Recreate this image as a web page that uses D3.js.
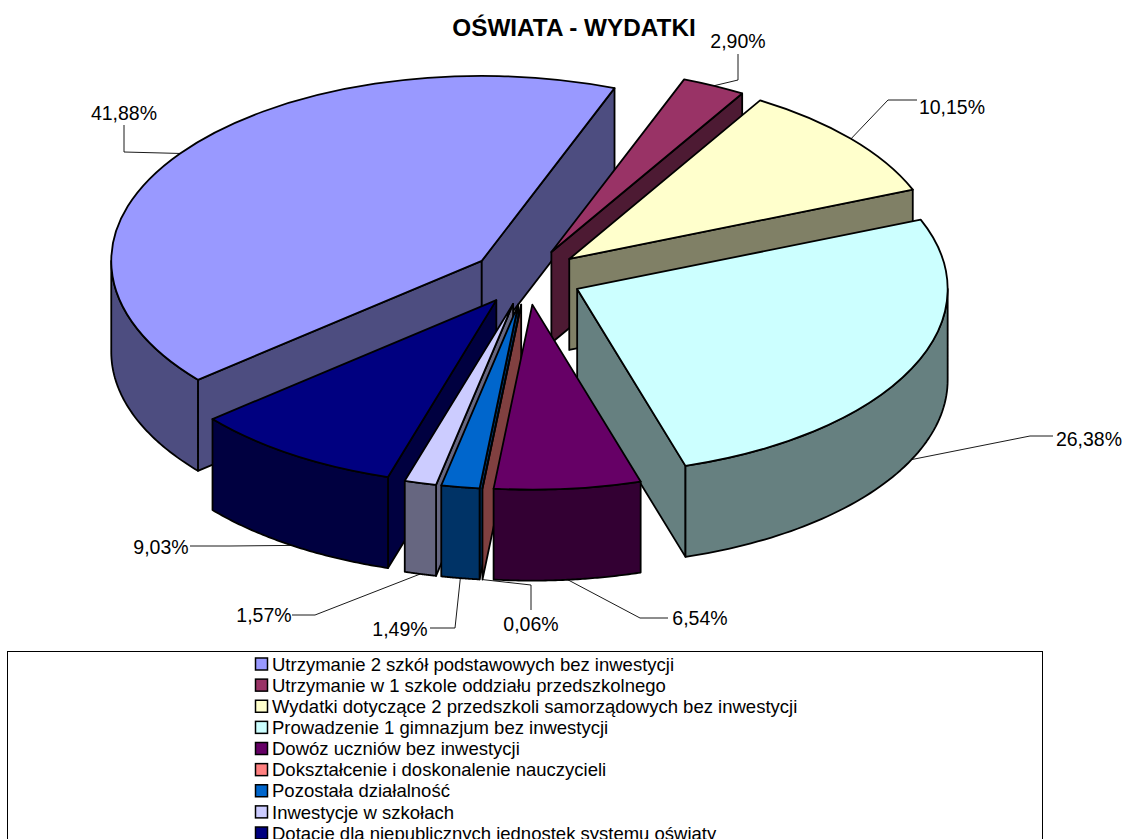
<!DOCTYPE html>
<html>
<head>
<meta charset="utf-8">
<script src="https://cdn.jsdelivr.net/npm/d3@7"></script>
<style>
html, body { margin: 0; padding: 0; background: #fff; overflow: hidden; }
text { font-family: "Liberation Sans", Arial, sans-serif; fill: #000; }
</style>
</head>
<body>
<div id="chart"></div>
<script>
// chart data
const categories = [
    "Utrzymanie 2 szkół podstawowych bez inwestycji",
    "Utrzymanie w 1 szkole oddziału przedszkolnego",
    "Wydatki dotyczące 2 przedszkoli samorządowych bez inwestycji",
    "Prowadzenie 1 gimnazjum bez inwestycji",
    "Dowóz uczniów bez inwestycji",
    "Dokształcenie i doskonalenie nauczycieli",
    "Pozostała działalność",
    "Inwestycje w szkołach",
    "Dotacje dla niepublicznych jednostek systemu oświaty"
];
const values = [41.88, 2.90, 10.15, 26.38, 6.54, 0.06, 1.49, 1.57, 9.03];
const title = "OŚWIATA - WYDATKI";

const colors = ["#9999FF", "#993366", "#FFFFCC", "#CCFFFF", "#660066", "#FF8080", "#0066CC", "#CCCCFF", "#000080"];

// layout
var width = 1125,
    height = 839;
var cx = 527, cy = 277;
var rx = 370.5, ry = 185, depth = 91;
var explode = 0.15;
var firstAngle = -130 * Math.PI / 180;

// back to front, the pie has no real depth sorting
var drawOrder = [0, 1, 2, 3, 8, 7, 6, 5, 4];

// label centre, then the elbow of the leader line and where it stops at the label
var labelPos = [
    {x: 124, y: 113, elbow: [124, 152], end: [124, 125]},
    {x: 738, y: 41, elbow: [738, 80], end: [738, 54]},
    {x: 952, y: 107, elbow: [888, 100], end: [917, 100]},
    {x: 1089, y: 439, elbow: [1030, 436], end: [1053, 436]},
    {x: 700, y: 618, elbow: [640, 618], end: [668, 618]},
    {x: 531, y: 624, elbow: [531, 585], end: [531, 610]},
    {x: 400, y: 629, elbow: [455, 628], end: [430, 628]},
    {x: 264, y: 615, elbow: [315, 615], end: [292, 615]},
    {x: 161, y: 547, elbow: [230, 546], end: [190, 546]}
];

var svg = d3.select('#chart').append('svg')
    .attr('width', width)
    .attr('height', height)
    .style('display', 'block');

// unit disc -> pixels
let scaleX = d3.scaleLinear().domain([-1, 1]).range([cx - rx, cx + rx]);
let scaleY = d3.scaleLinear().domain([-1, 1]).range([cy - ry, cy + ry]);

let pctFormat = d3.formatLocale({decimal: ",", thousands: " ", grouping: [3], currency: ["", ""]}).format(".2f");

let pie = d3.pie().sort(null)
    .startAngle(firstAngle)
    .endAngle(firstAngle + 2 * Math.PI);
let slices = pie(values);

// the original pie snaps slice borders to whole degrees
let wholeDeg = a => Math.round(a * 180 / Math.PI) * Math.PI / 180;

slices.forEach(s => {
    s.startAngle = wholeDeg(s.startAngle);
    s.endAngle = wholeDeg(s.endAngle);
    s.mid = (s.startAngle + s.endAngle) / 2;
    s.ox = Math.sin(s.mid) * explode;
    s.oy = -Math.cos(s.mid) * explode;
});

/**
 * Point on a slice: angle t, radius r (0..1), dropped by z pixels
 */
function pt(s, t, r, z) {
    return [scaleX(s.ox + r * Math.sin(t)), scaleY(s.oy - r * Math.cos(t)) + z];
}

let line = d3.line();

function radialFace(s, t) {
    return line([pt(s, t, 0, 0), pt(s, t, 1, 0), pt(s, t, 1, depth), pt(s, t, 0, depth)]) + "Z";
}

/**
 * Outer wall, only the part turned towards the viewer (t between 90 and 270 deg, mod 360)
 */
function rimFace(s) {
    let a = Math.max(s.startAngle, Math.PI / 2);
    let b = Math.min(s.endAngle, 3 * Math.PI / 2);
    let a2 = Math.max(s.startAngle, -3 * Math.PI / 2);
    let b2 = Math.min(s.endAngle, -Math.PI / 2);
    if (a2 < b2) { a = a2; b = b2; }
    if (a >= b) return null;
    let ts = d3.range(0, 61).map(i => a + (b - a) * i / 60);
    let upper = ts.map(t => pt(s, t, 1, 0));
    let lower = ts.slice().reverse().map(t => pt(s, t, 1, depth));
    return line(upper.concat(lower)) + "Z";
}

// leader lines go under the slices
let leaders = svg.append('g');
slices.forEach((s, i) => {
    let front = Math.cos(s.mid) < 0;
    let start = pt(s, s.mid, 1, front ? depth : 0);
    leaders.append('path')
        .attr('d', line([start, labelPos[i].elbow, labelPos[i].end]))
        .attr('fill', 'none')
        .attr('stroke', '#000')
        .attr('stroke-width', 0.9);
});

let arc = d3.arc().innerRadius(0).outerRadius(rx);

let g = svg.append('g')
    .attr('stroke', '#000')
    .attr('stroke-width', 1.8)
    .attr('stroke-linejoin', 'round');

drawOrder.forEach(i => {
    let s = slices[i];
    let c = d3.rgb(colors[i]);
    let side = d3.rgb(c.r / 2, c.g / 2, c.b / 2);

    let slice = g.append('g').attr('class', 'slice');
    if (Math.sin(s.startAngle) < 0) {
        slice.append('path').attr('d', radialFace(s, s.startAngle)).attr('fill', side);
    }
    if (Math.sin(s.endAngle) > 0) {
        slice.append('path').attr('d', radialFace(s, s.endAngle)).attr('fill', side);
    }
    let rim = rimFace(s);
    if (rim) slice.append('path').attr('d', rim).attr('fill', side);

    // top face, a circle squashed to the ellipse
    slice.append('path')
        .attr('d', arc(s))
        .attr('transform', 'translate(' + scaleX(s.ox) + ',' + scaleY(s.oy) + ') scale(1,' + (ry / rx) + ')')
        .attr('vector-effect', 'non-scaling-stroke')
        .attr('fill', colors[i]);
});

// percent labels
svg.append('g').selectAll('text').data(slices).enter().append('text')
    .attr('x', (d, i) => labelPos[i].x)
    .attr('y', (d, i) => labelPos[i].y)
    .attr('dy', '0.36em')
    .attr('text-anchor', 'middle')
    .attr('font-size', 19.5)
    .text(d => pctFormat(d.value) + "%");

svg.append('text')
    .attr('x', 574)
    .attr('y', 36)
    .attr('text-anchor', 'middle')
    .attr('font-size', 24.3)
    .attr('font-weight', 'bold')
    .text(title);

// legend, cut by the bottom of the picture like the original
svg.append('rect')
    .attr('x', 7.5)
    .attr('y', 651.5)
    .attr('width', 1035)
    .attr('height', 260)
    .attr('fill', '#fff')
    .attr('stroke', '#000')
    .attr('stroke-width', 1);

let scaleLegend = d3.scaleLinear().domain([0, 8]).range([664, 833]);
let legend = svg.append('g').selectAll('g').data(categories).enter().append('g')
    .attr('transform', (d, i) => 'translate(0,' + scaleLegend(i) + ')');
legend.append('rect')
    .attr('x', 255.5)
    .attr('y', -6)
    .attr('width', 12)
    .attr('height', 12)
    .attr('fill', (d, i) => colors[i])
    .attr('stroke', '#000')
    .attr('stroke-width', 1.5);
legend.append('text')
    .attr('x', 272)
    .attr('dy', '0.36em')
    .attr('font-size', 18.5)
    .text(d => d);
</script>
</body>
</html>
